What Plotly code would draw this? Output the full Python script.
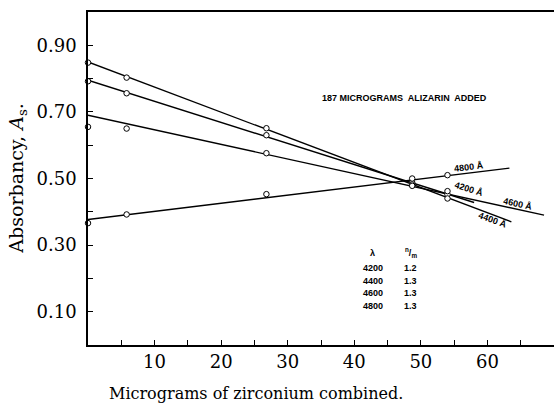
import plotly.graph_objects as go

# ---- data ----
wavelengths = ["4200", "4400", "4600", "4800"]
ratios = ["1.2", "1.3", "1.3", "1.3"]

zr_x = [0, 5.8, 26.8, 48.7, 54.0]
abs_4200 = [0.792, 0.756, 0.630, 0.488, 0.452]
abs_4400 = [0.848, 0.803, 0.651, 0.482, 0.440]
abs_4600 = [0.655, 0.650, 0.576, 0.478, 0.462]
abs_4800 = [0.366, 0.392, 0.453, 0.500, 0.510]

fit_x_4200 = [0, 58.0]
fit_y_4200 = [0.795, 0.428]
fit_x_4400 = [0, 63.6]
fit_y_4400 = [0.850, 0.370]
fit_x_4600 = [0, 68.5]
fit_y_4600 = [0.690, 0.390]
fit_x_4800 = [0, 63.3]
fit_y_4800 = [0.377, 0.531]

x_ticks = [10, 20, 30, 40, 50, 60]
x_labels = ["10", "20", "30", "40", "50", "60"]
y_ticks = [0.1, 0.3, 0.5, 0.7, 0.9]
y_labels = ["0.10", "0.30", "0.50", "0.70", "0.90"]

series = [
    ("4200", fit_x_4200, fit_y_4200, abs_4200),
    ("4400", fit_x_4400, fit_y_4400, abs_4400),
    ("4600", fit_x_4600, fit_y_4600, abs_4600),
    ("4800", fit_x_4800, fit_y_4800, abs_4800),
]

fig = go.Figure()
for name, fx, fy, ys in series:
    fig.add_trace(go.Scatter(x=fx, y=fy, mode="lines",
                             line=dict(color="black", width=1.4),
                             showlegend=False, hoverinfo="skip"))
for name, fx, fy, ys in series:
    fig.add_trace(go.Scatter(x=zr_x, y=ys, mode="markers", cliponaxis=False,
                             marker=dict(symbol="circle", size=5.5, color="white",
                                         line=dict(color="black", width=1)),
                             showlegend=False, name=name + " Å"))

small = dict(family="Liberation Sans, Arial, sans-serif", size=9, color="black")

# curve labels
curve_labels = [
    ("4800 Å", 57.3, 0.536, -7),
    ("4200 Å", 57.2, 0.467, 17),
    ("4600 Å", 64.6, 0.422, 12),
    ("4400 Å", 60.8, 0.376, 20),
]
for txt, x, y, ang in curve_labels:
    fig.add_annotation(x=x, y=y, text="<b>" + txt + "</b>", showarrow=False,
                       textangle=ang, font=small)

fig.add_annotation(x=47.5, y=0.741, text="<b>187 MICROGRAMS  ALIZARIN  ADDED</b>",
                   showarrow=False, font=small)

# table
row_y = [0.231, 0.192, 0.156, 0.117]
fig.add_annotation(x=42.75, y=0.276, text="<b>λ</b>", showarrow=False, font=small)
fig.add_annotation(x=48.45, y=0.279, text="<b><sup>n</sup>/<sub>m</sub></b>",
                   showarrow=False, font=small)
for wl, r, yy in zip(wavelengths, ratios, row_y):
    fig.add_annotation(x=42.75, y=yy, text="<b>" + wl + "</b>", showarrow=False, font=small)
    fig.add_annotation(x=48.45, y=yy, text="<b>" + r + "</b>", showarrow=False, font=small)

serif = "DejaVu Serif, serif"
fig.add_annotation(xref="paper", yref="paper", x=0.36, y=-0.147,
                   xanchor="center", yanchor="middle",
                   text="Micrograms of zirconium combined.", showarrow=False,
                   font=dict(family=serif, size=16, color="black"))
fig.add_annotation(xref="paper", yref="y", x=-0.152, y=0.50,
                   xanchor="center", yanchor="middle",
                   text="Absorbancy, <i>A</i><sub>s</sub>.", showarrow=False,
                   textangle=-90, font=dict(family=serif, size=19, color="black"))

fig.update_layout(
    width=554, height=406,
    margin=dict(l=88, r=0, t=12, b=61),
    paper_bgcolor="white", plot_bgcolor="white",
    xaxis=dict(range=[0, 70], tickmode="array", tickvals=x_ticks, ticktext=x_labels,
               ticks="inside", ticklen=5, tickcolor="black", tickwidth=1,
               minor=dict(tick0=0, dtick=5, ticks="inside", ticklen=5,
                          tickcolor="black", tickwidth=1, showgrid=False),
               showline=True, linecolor="black", linewidth=1.5, mirror=True,
               showgrid=False, zeroline=False,
               tickfont=dict(family=serif, size=18, color="black"),
               ticklabelstandoff=0),
    yaxis=dict(range=[0, 1.0], tickmode="array", tickvals=y_ticks, ticktext=y_labels,
               ticks="inside", ticklen=5, tickcolor="black", tickwidth=1,
               minor=dict(tick0=0, dtick=0.1, ticks="inside", ticklen=5,
                          tickcolor="black", tickwidth=1, showgrid=False),
               showline=True, linecolor="black", linewidth=1.5,
               showgrid=False, zeroline=False,
               tickfont=dict(family=serif, size=18, color="black"),
               ticklabelstandoff=6),
)

fig.write_html("out.html")
